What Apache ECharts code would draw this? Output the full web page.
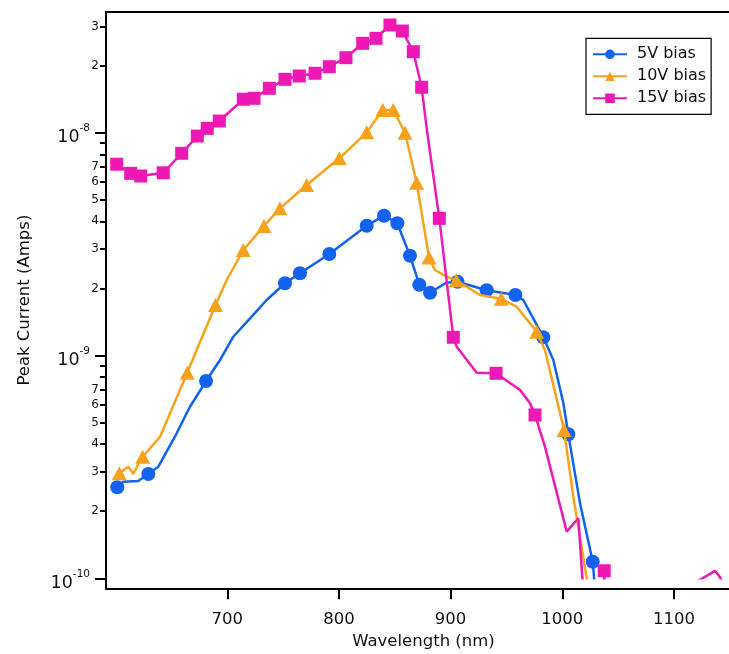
<!DOCTYPE html>
<html>
<head>
<meta charset="utf-8">
<script src="https://cdn.jsdelivr.net/npm/echarts@6/dist/echarts.min.js"></script>
<style>
html,body{margin:0;padding:0;background:#fff;}
#chart{width:729px;height:654px;}
</style>
</head>
<body>
<div id="chart"></div>
<script>
// ---------------- DATA ----------------
const seriesNames = ['5V bias', '10V bias', '15V bias'];

// 5V bias: points carrying a marker
const blueMarkerNm   = [601.5, 629.3, 681.0, 751.7, 765.1, 791.4, 824.9, 840.4, 852.3, 863.6, 872.0, 881.6, 906.2, 932.3, 958.0, 983.0, 1005.4, 1027.3];
const blueMarkerAmps = [2.561e-10, 2.938e-10, 7.68e-10, 2.109e-9, 2.338e-9, 2.855e-9, 3.825e-9, 4.241e-9, 3.922e-9, 2.805e-9, 2.078e-9, 1.913e-9, 2.144e-9, 1.962e-9, 1.868e-9, 1.207e-9, 4.43e-10, 1.187e-10];
// 5V bias: trace points between markers
const blueLineNm   = [606.9, 620.3, 638.3, 654.7, 666.6, 693.5, 705.4, 720.4, 735.3, 896.0, 965.1, 975.6, 992.0, 1001.0, 1015.9, 1031.0];
const blueLineAmps = [2.714e-10, 2.733e-10, 3.17e-10, 4.476e-10, 5.89e-10, 9.54e-10, 1.214e-9, 1.469e-9, 1.775e-9, 2.12e-9, 1.775e-9, 1.418e-9, 9.54e-10, 6.10e-10, 2.17e-10, 7e-11];

// 10V bias
const orangeMarkerNm   = [603.3, 624.3, 664.2, 689.5, 714.4, 732.9, 747.2, 771.1, 800.3, 824.9, 839.2, 848.7, 859.2, 869.6, 880.7, 905.1, 945.4, 977.1, 1001.6];
const orangeMarkerAmps = [2.96e-10, 3.513e-10, 8.37e-10, 1.685e-9, 2.975e-9, 3.813e-9, 4.577e-9, 5.824e-9, 7.675e-9, 1.004e-8, 1.264e-8, 1.264e-8, 1.0e-8, 5.964e-9, 2.754e-9, 2.175e-9, 1.796e-9, 1.279e-9, 4.63e-10];
const orangeLineNm   = [611.4, 615.9, 620.3, 639.8, 672.6, 699.5, 886.0, 896.5, 926.3, 959.2, 984.5, 1009.9, 1027.0];
const orangeLineAmps = [3.17e-10, 2.94e-10, 3.26e-10, 4.32e-10, 1.058e-9, 2.182e-9, 2.42e-9, 2.258e-9, 1.868e-9, 1.656e-9, 1.058e-9, 2.32e-10, 7e-11];

// 15V bias
const pinkMarkerNm   = [601.0, 613.5, 622.5, 642.7, 659.2, 673.2, 682.1, 692.9, 714.4, 724.0, 737.7, 751.7, 764.5, 778.6, 791.4, 806.3, 821.3, 833.2, 845.7, 856.8, 866.6, 874.1, 889.9, 902.4, 940.7, 975.6, 1037.6];
const pinkMarkerAmps = [7.22e-9, 6.57e-9, 6.39e-9, 6.61e-9, 8.08e-9, 9.66e-9, 1.046e-8, 1.128e-8, 1.413e-8, 1.427e-8, 1.582e-8, 1.736e-8, 1.797e-8, 1.848e-8, 1.978e-8, 2.171e-8, 2.519e-8, 2.652e-8, 3.043e-8, 2.860e-8, 2.310e-8, 1.599e-8, 4.127e-9, 1.207e-9, 8.32e-10, 5.41e-10, 1.081e-10];
const pinkLineNm   = [878.4, 905.5, 923.4, 962.2, 971.1, 984.5, 1004.0, 1014.4, 1021.0, 1036.0, 1039.5, 1115.0, 1136.8, 1141.3, 1150.0];
const pinkLineAmps = [1.064e-8, 1.095e-9, 8.37e-10, 7.00e-10, 6.10e-10, 3.90e-10, 1.62e-10, 1.86e-10, 6e-11, 6e-11, 6e-11, 9.3e-11, 1.08e-10, 1.01e-10, 8e-11];

// Tick values
const xTickValues = [700, 800, 900, 1000, 1100];
const yDecadeTicks = [1e-10, 1e-9, 1e-8];
const yMinorLabelTicks = [2e-10, 3e-10, 4e-10, 5e-10, 6e-10, 7e-10,
                          2e-9, 3e-9, 4e-9, 5e-9, 6e-9, 7e-9,
                          2e-8, 3e-8];
const yMinorUnlabeledTicks = [8e-10, 9e-10, 8e-9, 9e-9];

// ---------------- LAYOUT / STYLE ----------------
const FONT = 'DejaVu Sans';
const colors = ['#1262F0', '#F8A11C', '#EE19B5'];
const symbols = ['circle', 'triangle', 'rect'];
const symbolSizes = [14, [15, 14], 13];

const PX_PER_NM = 1.1167;
const PX_PER_DECADE = 222.8;
const axisLeft = 106, plotLeft = 116.7, plotRightPx = 741;
const plotTop = 12, plotBottom = 578.3, axisBottom = 588.3;
const X_DATA_MIN = 601;
const Y_DATA_MIN = 1e-10;
const xMaxVal = X_DATA_MIN + (plotRightPx - plotLeft) / PX_PER_NM;
const xAxisMinVal = X_DATA_MIN - (plotLeft - axisLeft) / PX_PER_NM;
const yMaxVal = Y_DATA_MIN * Math.pow(10, (plotBottom - plotTop) / PX_PER_DECADE);
const yAxisMinVal = Y_DATA_MIN * Math.pow(10, -(axisBottom - plotBottom) / PX_PER_DECADE);

function buildData(mNm, mAmp, lNm, lAmp) {
  const pts = [];
  mNm.forEach((x, i) => pts.push({ value: [x, mAmp[i]] }));
  lNm.forEach((x, i) => pts.push({ value: [x, lAmp[i]], symbol: 'none' }));
  pts.sort((a, b) => a.value[0] - b.value[0]);
  return pts;
}
const seriesData = [
  buildData(blueMarkerNm, blueMarkerAmps, blueLineNm, blueLineAmps),
  buildData(orangeMarkerNm, orangeMarkerAmps, orangeLineNm, orangeLineAmps),
  buildData(pinkMarkerNm, pinkMarkerAmps, pinkLineNm, pinkLineAmps)
];

const chart = echarts.init(document.getElementById('chart'), null, { renderer: 'canvas' });

const blackLine = { show: true, onZero: false, lineStyle: { color: '#000', width: 2 } };

const option = {
  animation: false,
  backgroundColor: '#fff',
  textStyle: { fontFamily: FONT },
  grid: [
    { left: axisLeft, top: plotTop, width: plotRightPx - axisLeft, height: axisBottom - plotTop,
      containLabel: false, outerBoundsMode: 'none', show: false },
    { left: plotLeft, top: plotTop, width: plotRightPx - plotLeft, height: plotBottom - plotTop,
      containLabel: false, outerBoundsMode: 'none', show: false }
  ],
  legend: {
    data: seriesNames,
    orient: 'vertical',
    left: 586, top: 38.3,
    padding: [7, 5, 7, 6],
    borderColor: '#000', borderWidth: 1.2,
    backgroundColor: '#fff',
    itemWidth: 34, itemHeight: 12, itemGap: 4,
    selectedMode: false,
    textStyle: { fontFamily: FONT, fontSize: 16, color: '#111', lineHeight: 18, padding: [0, 0, 0, 5] }
  },
  xAxis: [
    {
      gridIndex: 0, type: 'value', position: 'bottom',
      min: xAxisMinVal, max: xMaxVal,
      axisLine: blackLine,
      axisTick: { show: true, customValues: xTickValues, length: 11, lineStyle: { color: '#000', width: 2 } },
      axisLabel: { show: true, customValues: xTickValues, fontFamily: FONT, fontSize: 16.5, color: '#111', margin: 23,
                   formatter: v => String(Math.round(v)) },
      splitLine: { show: false },
      name: 'Wavelength (nm)', nameLocation: 'middle', nameGap: 43,
      nameTextStyle: { fontFamily: FONT, fontSize: 16.5, color: '#111' }
    },
    {
      gridIndex: 0, type: 'value', position: 'top',
      min: xAxisMinVal, max: xMaxVal,
      axisLine: blackLine,
      axisTick: { show: false }, axisLabel: { show: false }, splitLine: { show: false }
    },
    {
      gridIndex: 1, type: 'value', min: X_DATA_MIN, max: xMaxVal, show: false,
      splitLine: { show: false }
    }
  ],
  yAxis: [
    {
      gridIndex: 0, type: 'log', logBase: 10, position: 'left',
      min: yAxisMinVal, max: yMaxVal,
      axisLine: blackLine,
      axisTick: { show: true, customValues: yDecadeTicks, length: 11, lineStyle: { color: '#000', width: 2 } },
      minorTick: { show: false },
      axisLabel: {
        show: true, customValues: yDecadeTicks, margin: 16, padding: [10, 0, 0, 0],
        formatter: v => '{b|10}{s|' + Math.round(Math.log10(v)) + '}',
        rich: {
          b: { fontFamily: FONT, fontSize: 17.5, lineHeight: 30, color: '#111' },
          s: { fontFamily: FONT, fontSize: 10.5, lineHeight: 10, color: '#111', verticalAlign: 'top' }
        }
      },
      splitLine: { show: false },
      name: 'Peak Current (Amps)', nameLocation: 'middle', nameGap: 73, nameRotate: 90,
      nameTextStyle: { fontFamily: FONT, fontSize: 16.5, color: '#111' }
    },
    {
      gridIndex: 0, type: 'log', logBase: 10, position: 'left',
      min: yAxisMinVal, max: yMaxVal,
      axisLine: { show: false },
      axisTick: { show: true, customValues: yMinorLabelTicks.concat(yMinorUnlabeledTicks), length: 6, lineStyle: { color: '#000', width: 2 } },
      minorTick: { show: false },
      axisLabel: {
        show: true, customValues: yMinorLabelTicks, margin: 7,
        fontFamily: FONT, fontSize: 12, color: '#111',
        formatter: v => {
          const e = Math.floor(Math.log10(v) + 1e-9);
          return String(Math.round(v / Math.pow(10, e)));
        }
      },
      splitLine: { show: false }
    },
    {
      gridIndex: 1, type: 'log', logBase: 10, min: Y_DATA_MIN, max: yMaxVal, show: false,
      splitLine: { show: false }
    }
  ],
  series: seriesNames.map((name, i) => ({
    name: name,
    type: 'line',
    xAxisIndex: 2, yAxisIndex: 2,
    data: seriesData[i],
    symbol: symbols[i],
    symbolSize: symbolSizes[i],
    showSymbol: true,
    showAllSymbol: true,
    clip: true,
    smooth: false,
    z: 2 + i,
    itemStyle: { color: colors[i] },
    lineStyle: { color: colors[i], width: 2.5 },
    emphasis: { disabled: true }
  }))
};

chart.setOption(option);
</script>
</body>
</html>
